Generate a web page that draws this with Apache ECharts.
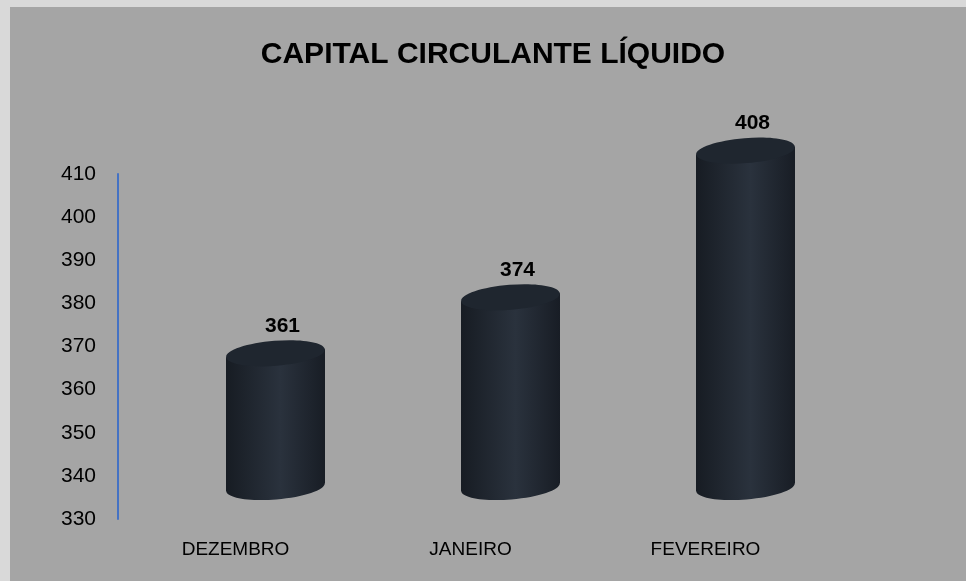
<!DOCTYPE html>
<html><head><meta charset="utf-8">
<script src="https://cdn.jsdelivr.net/npm/echarts@6/dist/echarts.min.js"></script>
<style>html,body{margin:0;padding:0;background:#d9d9d9}#c{width:966px;height:581px}</style>
</head><body><div id="c"></div>
<script>
const titleText = 'CAPITAL CIRCULANTE LÍQUIDO';
const categories = ['DEZEMBRO', 'JANEIRO', 'FEVEREIRO'];
const values = [361, 374, 408];
const yMin = 330, yMax = 410, yStep = 10;

const chart = echarts.init(document.getElementById('c'));
const grad = new echarts.graphic.LinearGradient(0, 0, 1, 0, [
  {offset: 0, color: '#171c23'},
  {offset: 0.55, color: '#2a323d'},
  {offset: 1, color: '#181d25'}
]);
const FONT = '"Liberation Sans", sans-serif';
chart.setOption({
  backgroundColor: '#d9d9d9',
  graphic: [{type: 'rect', left: 10, top: 7, shape: {width: 956, height: 574}, style: {fill: '#a5a5a5'}, z: -10}],
  title: {
    text: titleText, left: 488, top: 35, textAlign: 'center',
    textStyle: {fontFamily: FONT, fontWeight: 'bold', fontSize: 30, color: '#000'}
  },
  grid: {left: 118, right: 143, top: 174, bottom: 62},
  xAxis: {
    type: 'category', data: categories,
    axisLine: {show: false}, axisTick: {show: false},
    axisLabel: {color: '#000', fontSize: 19, margin: 21, fontFamily: FONT}
  },
  yAxis: {
    type: 'value', min: yMin, max: yMax, interval: yStep,
    axisLine: {show: true, lineStyle: {color: '#4472c4', width: 2}},
    axisTick: {show: false}, splitLine: {show: false},
    axisLabel: {color: '#000', fontSize: 21, margin: 22, fontFamily: FONT}
  },
  series: [{
    type: 'custom',
    data: values.map((v, i) => [i, v]),
    renderItem: function (params, api) {
      const idx = api.value(0), v = api.value(1);
      const top = api.coord([idx, v]);
      const base = api.coord([idx, yMin]);
      const dx = 40, dy = -32, w = 99, eh = 25, rot = 0.08;
      const cx = top[0] + dx, ty = top[1] + dy, by = base[1] + dy;
      const s = (w / 2) * Math.sin(rot);
      return {
        type: 'group',
        children: [
          {type: 'ellipse', shape: {cx: cx, cy: by, rx: w / 2, ry: eh / 2}, rotation: rot, originX: cx, originY: by, style: {fill: grad}},
          {type: 'polygon', shape: {points: [[cx - w / 2, ty + s], [cx + w / 2, ty - s], [cx + w / 2, by - s], [cx - w / 2, by + s]]}, style: {fill: grad}},
          {type: 'ellipse', shape: {cx: cx, cy: ty, rx: w / 2, ry: eh / 2}, rotation: rot, originX: cx, originY: ty, style: {fill: '#1f262f'}},
          {type: 'text', x: cx + 7, y: ty - 27, style: {text: String(v), textAlign: 'center', textVerticalAlign: 'middle', fill: '#000', font: 'bold 21px ' + FONT}}
        ]
      };
    }
  }]
});
</script></body></html>
